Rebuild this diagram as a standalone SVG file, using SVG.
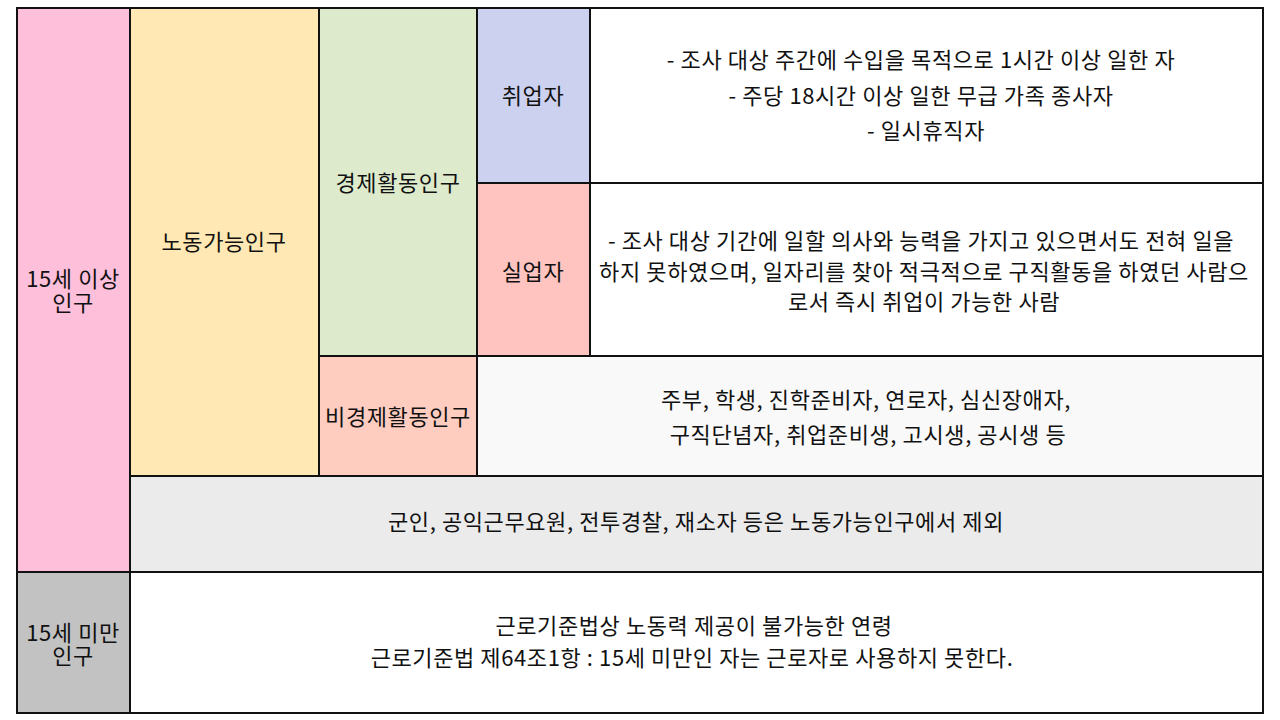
<svg xmlns="http://www.w3.org/2000/svg" width="1280" height="720" viewBox="0 0 1280 720">
<style>
rect{stroke:#111;stroke-width:2}
text{font-family:"Noto Sans CJK KR","Noto Sans",sans-serif;font-size:22px;letter-spacing:0.6px;fill:#111;text-anchor:middle}
</style>
<rect x="0" y="0" width="1280" height="720" style="fill:#fff;stroke:none"/>
<g id="over15"><rect x="17" y="8" width="113" height="564" fill="#FEBFDA"/><text x="73" y="287">15세 이상</text><text x="73" y="311">인구</text></g>
<g id="labor"><rect x="130" y="8" width="189" height="468" fill="#FFE8B3"/><text x="224" y="250">노동가능인구</text></g>
<g id="econ"><rect x="319" y="8" width="158" height="348" fill="#DDEBCC"/><text x="398" y="191">경제활동인구</text></g>
<g id="employed"><rect x="477" y="8" width="113" height="175" fill="#CDD1F0"/><text x="533" y="104">취업자</text></g>
<g id="employed-desc"><rect x="590" y="8" width="673" height="175" fill="#fff"/>
<text x="921" y="68">- 조사 대상 주간에 수입을 목적으로 1시간 이상 일한 자</text>
<text x="921" y="104">- 주당 18시간 이상 일한 무급 가족 종사자</text>
<text x="926" y="139">- 일시휴직자</text></g>
<g id="unemployed"><rect x="477" y="183" width="113" height="173" fill="#FFC4C0"/><text x="533" y="280">실업자</text></g>
<g id="unemployed-desc"><rect x="590" y="183" width="673" height="173" fill="#fff"/>
<text x="921" y="249">- 조사 대상 기간에 일할 의사와 능력을 가지고 있으면서도 전혀 일을</text>
<text x="924" y="280">하지 못하였으며, 일자리를 찾아 적극적으로 구직활동을 하였던 사람으</text>
<text x="924" y="310">로서 즉시 취업이 가능한 사람</text></g>
<g id="nonecon"><rect x="319" y="356" width="158" height="120" fill="#FFCCC0"/><text x="398" y="425">비경제활동인구</text></g>
<g id="nonecon-desc"><rect x="477" y="356" width="786" height="120" fill="#F9F9F9"/>
<text x="866" y="408">주부, 학생, 진학준비자, 연로자, 심신장애자,</text>
<text x="868" y="443">구직단념자, 취업준비생, 고시생, 공시생 등</text></g>
<g id="excluded"><rect x="130" y="476" width="1133" height="96" fill="#EBEBEB"/><text x="696" y="530">군인, 공익근무요원, 전투경찰, 재소자 등은 노동가능인구에서 제외</text></g>
<g id="under15"><rect x="17" y="572" width="113" height="141" fill="#C2C2C2"/><text x="73" y="641">15세 미만</text><text x="73" y="664">인구</text></g>
<g id="under15-desc"><rect x="130" y="572" width="1133" height="141" fill="#fff"/>
<text x="694" y="634">근로기준법상 노동력 제공이 불가능한 연령</text>
<text x="692" y="666">근로기준법 제64조1항 : 15세 미만인 자는 근로자로 사용하지 못한다.</text></g>
<g id="connectors"></g>
</svg>
